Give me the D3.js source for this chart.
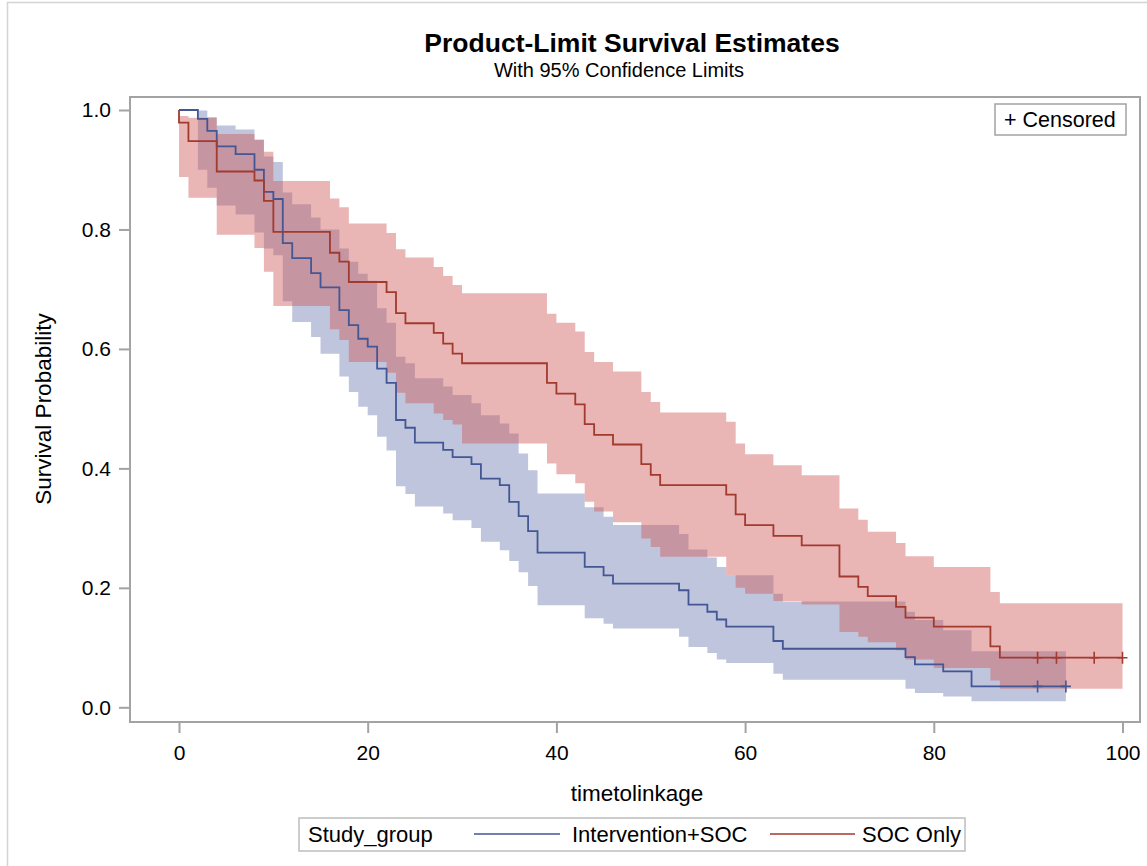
<!DOCTYPE html>
<html>
<head>
<meta charset="utf-8">
<script src="https://cdn.jsdelivr.net/npm/d3@7"></script>
<style>
  body { margin: 0; background: #fff; }
  text { font-family: "Liberation Sans", Arial, sans-serif; fill: #000; }
</style>
</head>
<body>
<div id="chart"></div>
<script>
// Intervention+SOC: event times, survival and 95% limits after each time
const blueTimes = [2, 3, 4, 6, 8, 9, 10, 11, 12, 14, 15, 17, 18, 19, 20, 21, 22, 23, 24, 25, 28, 29, 31, 32, 34, 35, 36, 37, 38, 43, 45, 46, 53, 54, 56, 57, 58, 63, 64, 77, 78, 81, 84];
const blueSurv = [0.985, 0.965, 0.939, 0.926, 0.900, 0.863, 0.851, 0.777, 0.752, 0.727, 0.703, 0.665, 0.640, 0.617, 0.604, 0.567, 0.543, 0.481, 0.468, 0.443, 0.431, 0.419, 0.407, 0.383, 0.372, 0.344, 0.320, 0.295, 0.259, 0.235, 0.221, 0.207, 0.196, 0.172, 0.160, 0.147, 0.135, 0.111, 0.098, 0.084, 0.072, 0.060, 0.035];
const blueLower = [0.90, 0.87, 0.84, 0.825, 0.795, 0.768, 0.757, 0.68, 0.645, 0.62, 0.592, 0.554, 0.528, 0.503, 0.489, 0.453, 0.43, 0.37, 0.357, 0.336, 0.3245, 0.313, 0.30, 0.277, 0.263, 0.245, 0.226, 0.203, 0.171, 0.149, 0.140, 0.132, 0.118, 0.101, 0.091, 0.080, 0.074, 0.056, 0.046, 0.031, 0.024, 0.018, 0.010];
const blueUpper = [0.999, 0.988, 0.974, 0.9675, 0.950, 0.922, 0.913, 0.862, 0.842, 0.82, 0.80, 0.768, 0.746, 0.726, 0.714, 0.668, 0.644, 0.587, 0.576, 0.551, 0.537, 0.523, 0.509, 0.489, 0.475, 0.4585, 0.425, 0.397, 0.358, 0.335, 0.319, 0.305, 0.290, 0.264, 0.251, 0.235, 0.221, 0.190, 0.177, 0.160, 0.146, 0.129, 0.094];
const blueEnd = 94;
const blueCensored = [91, 94];

// SOC Only
const redTimes = [0, 1, 4, 8, 9, 10, 16, 17, 18, 22, 23, 24, 27, 28, 29, 30, 39, 40, 42, 43, 44, 46, 49, 50, 51, 58, 59, 60, 63, 66, 70, 72, 73, 76, 77, 80, 86, 87];
const redSurv = [0.979, 0.948, 0.897, 0.882, 0.848, 0.796, 0.761, 0.746, 0.712, 0.695, 0.660, 0.643, 0.627, 0.609, 0.592, 0.576, 0.543, 0.525, 0.507, 0.474, 0.456, 0.440, 0.407, 0.389, 0.372, 0.356, 0.323, 0.305, 0.287, 0.271, 0.219, 0.2015, 0.186, 0.168, 0.150, 0.135, 0.102, 0.083];
const redLower = [0.888, 0.853, 0.791, 0.769, 0.729, 0.672, 0.633, 0.615, 0.578, 0.560, 0.5265, 0.509, 0.492, 0.481, 0.4735, 0.4417, 0.408, 0.390, 0.375, 0.344, 0.328, 0.310, 0.2825, 0.2685, 0.252, 0.221, 0.200, 0.19, 0.178, 0.172, 0.126, 0.118, 0.109, 0.0955, 0.080, 0.066, 0.045, 0.031];
const redUpper = [0.99, 0.987, 0.96, 0.95, 0.93, 0.881, 0.852, 0.837, 0.810, 0.794, 0.767, 0.753, 0.737, 0.722, 0.707, 0.693, 0.659, 0.644, 0.629, 0.595, 0.578, 0.562, 0.528, 0.511, 0.4935, 0.478, 0.4417, 0.4238, 0.4054, 0.3886, 0.333, 0.314, 0.2937, 0.275, 0.253, 0.235, 0.193, 0.174];
const redEnd = 100;
const redCensored = [91, 93, 97, 100];

const xTicks = [0, 20, 40, 60, 80, 100];
const yTicks = [0, 0.2, 0.4, 0.6, 0.8, 1.0];

const W = 1147, H = 866;
const frame = { left: 130, top: 97, right: 1140, bottom: 722 };

const svg = d3.select("#chart").append("svg")
    .attr("width", W)
    .attr("height", H);

svg.append("rect").attr("width", W).attr("height", H).attr("fill", "#fff");
// outer border of the graph
svg.append("rect")
    .attr("x", 7.5).attr("y", 2.5)
    .attr("width", W + 20).attr("height", H + 20)
    .attr("fill", "none").attr("stroke", "#d4d4d4").attr("stroke-width", 1.5);

const x = d3.scaleLinear().domain([0, 100]).range([179, 1122.5]);
const y = d3.scaleLinear().domain([0, 1]).range([707.3, 110]);

// Titles
svg.append("text").attr("x", 632).attr("y", 51.5).attr("text-anchor", "middle")
    .style("font-size", "26.5px").style("font-weight", "bold")
    .text("Product-Limit Survival Estimates");
svg.append("text").attr("x", 619).attr("y", 77).attr("text-anchor", "middle")
    .style("font-size", "20px")
    .text("With 95% Confidence Limits");

// build step series
function series(times, surv, lower, upper, end) {
    const pts = times.map((t, i) => ({ t: t, s: surv[i], lo: lower[i], hi: upper[i] }));
    const last = pts[pts.length - 1];
    pts.push({ t: end, s: last.s, lo: last.lo, hi: last.hi });
    return pts;
}
const blue = series(blueTimes, blueSurv, blueLower, blueUpper, blueEnd);
const red = series(redTimes, redSurv, redLower, redUpper, redEnd);

const band = d3.area()
    .curve(d3.curveStepAfter)
    .x(d => x(d.t))
    .y0(d => y(d.lo))
    .y1(d => y(d.hi));

const line = d3.line()
    .curve(d3.curveStepAfter)
    .x(d => x(d.t))
    .y(d => y(d.s));

const plot = svg.append("g");

plot.append("path").datum(blue).attr("d", band)
    .attr("fill", "#6F7EB3").attr("fill-opacity", 0.45);
plot.append("path").datum(red).attr("d", band)
    .attr("fill", "#D05B5B").attr("fill-opacity", 0.45);

plot.append("path").datum([{ t: 0, s: 1 }].concat(blue)).attr("d", line)
    .attr("fill", "none").attr("stroke", "#445694").attr("stroke-width", 1.8);
plot.append("path").datum([{ t: 0, s: 1 }].concat(red)).attr("d", line)
    .attr("fill", "none").attr("stroke", "#A23A2E").attr("stroke-width", 1.8);

// censored marks (+)
function plus(g, times, sval, color) {
    g.selectAll(null).data(times).join("path")
        .attr("d", t => `M${x(t) - 5},${y(sval)}h10M${x(t)},${y(sval) - 6}v12`)
        .attr("stroke", color).attr("stroke-width", 1.6).attr("fill", "none");
}
plus(plot, blueCensored, blueSurv[blueSurv.length - 1], "#445694");
plus(plot, redCensored, redSurv[redSurv.length - 1], "#A23A2E");

// frame
svg.append("rect")
    .attr("x", frame.left).attr("y", frame.top)
    .attr("width", frame.right - frame.left).attr("height", frame.bottom - frame.top)
    .attr("fill", "none").attr("stroke", "#a3a3a3").attr("stroke-width", 2);

// axes
const yAxis = svg.append("g")
    .attr("transform", `translate(${frame.left},0)`)
    .call(d3.axisLeft(y).tickValues(yTicks).tickFormat(d3.format(".1f")).tickSize(11).tickPadding(8));
const xAxis = svg.append("g")
    .attr("transform", `translate(0,${frame.bottom})`)
    .call(d3.axisBottom(x).tickValues(xTicks).tickSize(11).tickPadding(12));
[xAxis, yAxis].forEach(a => {
    a.select(".domain").remove();
    a.selectAll(".tick line").attr("stroke", "#a3a3a3").attr("stroke-width", 2);
    a.selectAll(".tick text").style("font-size", "21px").style("font-family", "Liberation Sans, Arial, sans-serif").attr("fill", "#000");
});

svg.append("text")
    .attr("transform", "translate(51,409) rotate(-90)")
    .attr("text-anchor", "middle")
    .style("font-size", "22.5px")
    .text("Survival Probability");
svg.append("text")
    .attr("x", 637).attr("y", 801)
    .attr("text-anchor", "middle")
    .style("font-size", "22.5px")
    .text("timetolinkage");

// inset legend
svg.append("rect").attr("x", 995).attr("y", 104).attr("width", 131).attr("height", 31)
    .attr("fill", "#fff").attr("stroke", "#a3a3a3").attr("stroke-width", 1.5);
svg.append("text").attr("x", 1004).attr("y", 127).style("font-size", "21.5px").text("+ Censored");

// bottom legend
const lg = svg.append("g");
lg.append("rect").attr("x", 299).attr("y", 818).attr("width", 666).attr("height", 33)
    .attr("fill", "#fff").attr("stroke", "#bdbdbd").attr("stroke-width", 1.5);
lg.append("text").attr("x", 308).attr("y", 842).style("font-size", "22px").text("Study_group");
lg.append("line").attr("x1", 474).attr("x2", 560).attr("y1", 834).attr("y2", 834)
    .attr("stroke", "#445694").attr("stroke-width", 1.6);
lg.append("text").attr("x", 572).attr("y", 842).style("font-size", "22px").text("Intervention+SOC");
lg.append("line").attr("x1", 770).attr("x2", 855).attr("y1", 834).attr("y2", 834)
    .attr("stroke", "#A23A2E").attr("stroke-width", 1.6);
lg.append("text").attr("x", 862).attr("y", 842).style("font-size", "22px").text("SOC Only");
</script>
</body>
</html>
